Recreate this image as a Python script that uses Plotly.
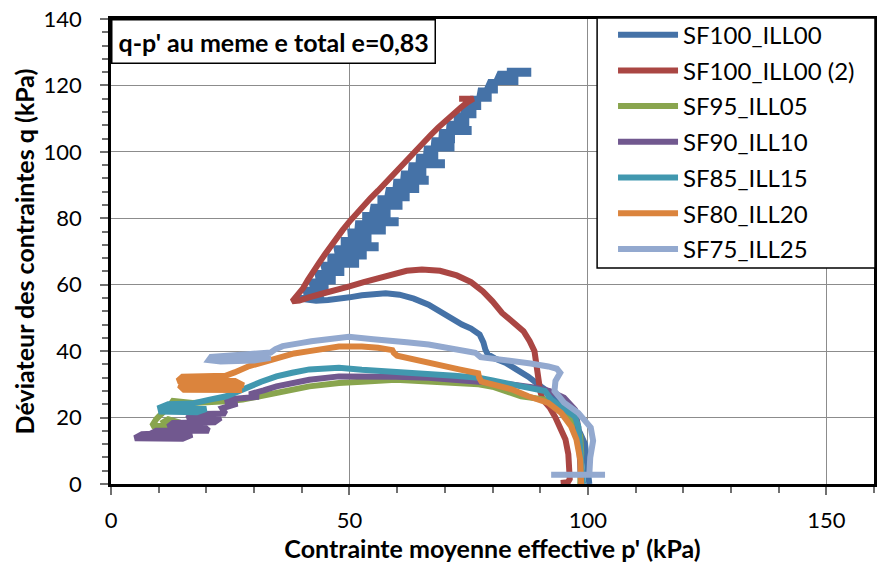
import plotly.graph_objects as go

# ---------------- data (p', q) ----------------
names = ["SF100_ILL00", "SF100_ILL00 (2)", "SF95_ILL05", "SF90_ILL10",
         "SF85_ILL15", "SF80_ILL20", "SF75_ILL25"]
colors = ["#4572A7", "#AA4643", "#89A54E", "#71588F", "#4198AF", "#DB843D", "#93A9CF"]

sf100_p = [100.3, 100.1, 99.8, 99.4, 98.3, 97.0, 95.0, 92.5, 90.2, 87.5, 85.0, 82.7, 80.5, 79.0, 78.5,
           78.1, 77.3, 75.5, 73.6, 71.0, 68.5, 66.6, 63.5, 60.5, 57.6, 55.0, 52.6, 50.0, 47.5, 45.5,
           43.0, 41.0, 39.5,
           39.5, 44.0, 44.0, 41.0, 40.8, 45.0, 45.0, 42.3, 42.0, 46.5, 46.5, 43.5,
           43.3, 48.3, 48.3, 44.8, 44.5, 51.4, 51.4, 46.0, 46.0, 53.0, 53.0, 47.5,
           47.3, 55.5, 55.5, 48.8, 48.8, 54.0, 54.0, 50.3, 50.2, 57.0, 57.0, 51.7,
           51.8, 59.7, 59.7, 53.3, 53.3, 58.0, 58.0, 54.8, 55.0, 60.5, 60.5, 56.5,
           56.5, 62.0, 62.0, 58.0, 58.2, 64.0, 64.0, 59.7, 59.8, 66.0, 66.0, 61.3,
           61.4, 65.5, 65.5, 62.9, 63.0, 69.4, 69.4, 64.5, 64.6, 68.0, 68.0, 66.1,
           66.2, 71.4, 71.4, 67.7, 67.8, 71.5, 71.5, 69.3, 69.4, 75.0, 75.0, 70.9,
           71.0, 74.5, 74.5, 72.5, 72.5, 76.0, 76.0, 74.0, 74.0, 77.0, 77.0, 75.5,
           75.8, 79.2, 79.2, 77.3, 77.5, 80.5, 80.5, 79.0, 79.5, 84.8, 84.8, 81.0,
           81.5, 87.5, 87.5, 83.0]
sf100_q = [0.0, 4.0, 8.0, 12.0, 15.5, 18.5, 22.0, 27.0, 29.3, 32.3, 34.5, 36.5, 37.8, 39.0, 40.5,
           42.6, 45.0, 46.8, 48.0, 50.2, 52.5, 54.0, 55.8, 57.0, 57.4, 57.3, 56.8, 56.2, 55.5, 55.4,
           55.2, 55.3, 55.8,
           56.0, 56.0, 56.9, 56.9, 58.5, 58.5, 59.4, 59.4, 61.0, 61.0, 61.9, 61.9,
           63.5, 63.5, 64.4, 64.4, 66.0, 66.0, 66.9, 66.9, 68.5, 68.5, 69.4, 69.4,
           71.0, 71.0, 71.9, 71.9, 73.5, 73.5, 74.4, 74.4, 76.0, 76.0, 76.9, 76.9,
           78.5, 78.5, 79.4, 79.4, 81.0, 81.0, 81.9, 81.9, 83.5, 83.5, 84.4, 84.4,
           86.0, 86.0, 86.9, 86.9, 88.5, 88.5, 89.4, 89.4, 91.0, 91.0, 91.9, 91.9,
           93.5, 93.5, 94.4, 94.4, 96.0, 96.0, 96.9, 96.9, 98.5, 98.5, 99.4, 99.4,
           101.0, 101.0, 101.9, 101.9, 103.5, 103.5, 104.4, 104.4, 106.0, 106.0, 106.9, 106.9,
           108.5, 108.5, 109.4, 109.4, 111.0, 111.0, 111.9, 111.9, 113.5, 113.5, 114.4, 114.4,
           116.0, 116.0, 116.9, 116.9, 118.5, 118.5, 119.4, 119.4, 121.0, 121.0, 121.9, 121.9,
           123.5, 123.5, 124.4, 124.4]

sf100b_p = [94.3, 95.8, 96.2, 96.2, 95.9, 95.3, 94.4, 93.2, 92.0, 90.5, 90.0, 89.7, 89.3, 88.8, 87.8,
            86.5, 84.5, 82.0, 80.0, 78.0, 75.5, 72.5, 69.0, 65.2, 62.0, 59.0, 56.0, 53.0, 50.0, 47.0,
            44.0, 41.5, 39.5, 38.0,
            39.0, 40.3, 41.3, 42.3, 43.6, 44.8, 46.0, 47.3, 48.6, 50.0, 51.5, 53.0, 54.4, 56.0, 57.4,
            59.0, 60.6, 62.2, 63.8, 65.5, 67.0, 68.6, 70.2, 71.8, 73.3, 74.8, 76.0, 73.0]
sf100b_q = [0.3, 0.5, 1.5, 5.0, 9.0, 13.4, 16.5, 20.0, 23.0, 25.5, 28.0, 32.0, 36.0, 40.0, 43.0,
            46.0, 48.5, 51.5, 55.0, 58.0, 60.8, 62.8, 64.2, 64.6, 64.2, 63.2, 62.2, 60.8, 59.5, 58.5,
            57.2, 56.2, 55.2, 55.0,
            56.5, 59.0, 61.5, 64.0, 66.5, 69.0, 71.5, 74.0, 76.5, 79.0, 81.5, 84.0, 86.0, 88.3, 90.5,
            92.8, 95.3, 97.8, 100.3, 102.8, 105.0, 107.3, 109.5, 111.5, 113.3, 115.0, 116.0, 116.0]

sf95_p = [98.4, 98.5, 98.6, 98.4, 97.3, 94.4, 91.0, 86.0, 84.0, 80.0, 77.1, 72.0, 66.6, 59.7, 52.6,
          47.8, 41.6, 34.7, 30.0, 29.0, 27.6, 24.2, 20.0, 17.1, 13.0, 12.0, 10.5, 9.5, 8.6, 11.0,
          14.5, 12.0, 10.5]
sf95_q = [0.0, 4.0, 9.3, 14.4, 18.4, 22.4, 25.4, 26.4, 27.5, 29.3, 30.0, 30.5, 30.8, 31.4, 30.8,
          30.4, 29.4, 27.4, 26.3, 26.0, 25.4, 24.9, 24.6, 24.4, 25.0, 23.0, 21.0, 19.5, 17.5, 17.5,
          18.5, 19.5, 18.2]

sf90_p = [98.6, 98.5, 98.4, 98.0, 97.3, 95.0, 92.0, 89.0, 84.0, 80.6, 73.5, 66.6, 59.7, 52.6, 47.8,
          41.6, 38.0, 34.7, 32.0, 29.0, 31.0, 25.5, 24.0, 26.5, 23.3, 24.0, 17.0, 16.0, 23.0, 21.7,
          13.0, 12.0, 19.5, 20.5, 9.5, 8.0, 17.0, 15.0, 5.0, 6.5, 11.0]
sf90_q = [0.0, 4.0, 8.0, 17.0, 22.4, 26.0, 28.0, 29.0, 30.0, 30.4, 31.4, 32.0, 32.3, 32.3, 32.4,
          31.4, 30.5, 29.4, 28.2, 27.0, 26.3, 25.6, 24.5, 24.2, 22.8, 21.2, 21.0, 19.8, 19.9, 18.6,
          18.4, 17.2, 17.2, 16.0, 16.0, 14.9, 14.8, 13.6, 13.8, 15.0, 15.3]

sf85_p = [99.0, 98.8, 98.6, 98.4, 98.0, 97.3, 94.4, 92.3, 91.0, 88.0, 84.0, 80.0, 77.1, 72.0, 66.6,
          59.7, 52.6, 47.8, 41.6, 38.0, 34.7, 31.5, 29.0, 26.5, 24.2, 20.7, 17.0, 12.0, 10.3, 10.5,
          18.0, 20.0, 11.0, 13.0]
sf85_q = [0.0, 4.0, 8.2, 12.4, 17.3, 20.3, 23.4, 25.4, 28.0, 29.0, 30.0, 31.2, 32.0, 32.6, 33.0,
          33.5, 34.4, 35.0, 34.5, 33.5, 32.4, 30.8, 29.4, 27.8, 26.4, 25.4, 24.2, 24.0, 23.0, 21.8,
          21.6, 22.6, 22.8, 24.0]

sf80_p = [98.6, 98.5, 98.4, 97.6, 96.5, 94.4, 91.7, 87.5, 84.0, 80.0, 77.7, 77.2, 77.0, 73.0, 70.2,
          66.0, 63.1, 60.0, 59.3, 59.0, 56.0, 52.6, 47.8, 43.0, 41.6, 38.4, 35.7, 32.2, 29.0, 25.9,
          24.0, 15.0, 14.0, 26.0, 27.8, 14.3, 15.3, 27.5]
sf80_q = [0.0, 4.0, 7.3, 13.4, 17.3, 21.4, 24.4, 26.4, 28.5, 30.0, 30.8, 32.0, 33.3, 34.5, 35.4,
          36.6, 37.4, 38.6, 39.5, 40.3, 41.0, 41.4, 41.4, 40.6, 40.0, 39.3, 38.3, 37.0, 35.5, 33.6,
          32.6, 32.3, 31.0, 31.0, 29.7, 29.7, 28.4, 28.3]

sf75_p = [92.3, 103.6, 100.3, 100.5, 101.1, 100.6, 98.0, 95.0, 93.0, 93.2, 94.2, 93.5, 91.7, 88.0,
          85.0, 80.6, 77.5, 76.4, 72.0, 66.6, 62.0, 59.7, 55.0, 49.9, 46.0, 42.0, 40.0, 38.0, 36.0,
          34.5, 33.5, 28.0, 24.0, 21.0, 20.5, 23.0, 30.0, 33.5, 29.0, 22.0]
sf75_q = [2.8, 2.8, 2.8, 8.0, 13.0, 17.0, 21.4, 24.5, 28.0, 31.0, 33.5, 34.7, 35.4, 36.3,
          36.9, 37.4, 38.2, 39.5, 40.8, 42.0, 42.7, 42.9, 43.6, 44.3, 43.8, 43.0, 42.5, 42.0, 41.5,
          40.6, 39.6, 39.0, 38.8, 38.3, 37.3, 36.9, 37.2, 38.0, 38.2, 37.8]

series_p = [sf100_p, sf100b_p, sf95_p, sf90_p, sf85_p, sf80_p, sf75_p]
series_q = [sf100_q, sf100b_q, sf95_q, sf90_q, sf85_q, sf80_q, sf75_q]

x_ticks = [0, 50, 100, 150]
y_ticks = [0, 20, 40, 60, 80, 100, 120, 140]

FONT = "Lato, 'Open Sans', sans-serif"

fig = go.Figure()
for nm, col, px, qy in zip(names, colors, series_p, series_q):
    fig.add_trace(go.Scatter(x=px, y=qy, mode="lines", name=nm, legendgroup=nm,
                             line=dict(color=col, width=6)))

axis_common = dict(showline=True, linecolor="black", linewidth=2.5, mirror=True,
                   showgrid=True, gridcolor="#8C8C8C", gridwidth=1,
                   ticks="outside", ticklen=8, tickcolor="#707070", tickwidth=1.5,
                   zeroline=False, tickfont=dict(family=FONT, size=22, color="black"))

fig.update_xaxes(range=[0, 160], tickvals=x_ticks, ticklabelstandoff=7,
                 minor=dict(ticks="outside", dtick=10, ticklen=6, tickcolor="#707070", tickwidth=1.5, showgrid=False),
                 title=dict(text="<b>Contrainte moyenne effective p' (kPa)</b>", standoff=2,
                            font=dict(family=FONT, size=25, color="black")),
                 **axis_common)
fig.update_yaxes(range=[0, 140], tickvals=y_ticks, ticklabelstandoff=14,
                 minor=dict(ticks="outside", dtick=4, ticklen=6, tickcolor="#707070", tickwidth=1.5, showgrid=False),
                 title=dict(text="<b>Déviateur des contraintes q (kPa)</b>", standoff=2,
                            font=dict(family=FONT, size=25, color="black")),
                 **axis_common)

fig.add_annotation(xref="paper", yref="paper", x=0, y=1, xanchor="left", yanchor="top",
                   text="<b>q-p' au meme e total e=0,83</b>", showarrow=False,
                   font=dict(family=FONT, size=25, color="black"),
                   bgcolor="white", bordercolor="black", borderwidth=1.5, borderpad=6)

# frame behind the legend (the legend itself is transparent)
fig.add_shape(type="rect", xref="paper", yref="paper", x0=0.6371, x1=1.0013, y0=0.4645, y1=1.0022,
              fillcolor="white", line=dict(color="black", width=1.5), layer="above")

fig.update_layout(
    width=879, height=564,
    margin=dict(l=111, r=2, t=19, b=80),
    paper_bgcolor="white", plot_bgcolor="white",
    showlegend=True,
    legend=dict(x=0.637, y=1.0138, xanchor="left", yanchor="top",
                bgcolor="rgba(0,0,0,0)", borderwidth=0,
                font=dict(family=FONT, size=24, color="black"),
                tracegroupgap=1.5, itemwidth=60, indentation=16),
    font=dict(family=FONT),
)

fig.write_html("out.html", config={"displayModeBar": False},
               post_script="document.body.style.margin='0px';")
